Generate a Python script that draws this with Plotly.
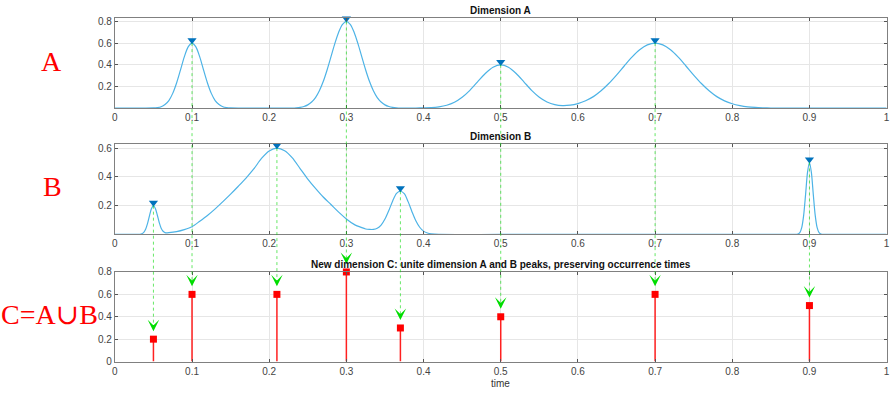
import plotly.graph_objects as go

# ---------------- data ----------------
tA = [0.00, 0.01, 0.02, 0.03, 0.04, 0.05, 0.055, 0.06, 0.065, 0.07, 0.075, 0.08, 0.085, 0.09, 0.095,
      0.10, 0.105, 0.11, 0.115, 0.12, 0.125, 0.13, 0.135, 0.14, 0.145, 0.15, 0.16, 0.17, 0.18, 0.19,
      0.20, 0.21, 0.22, 0.23, 0.235, 0.24, 0.245, 0.25, 0.255, 0.26, 0.265, 0.27, 0.275, 0.28, 0.285,
      0.29, 0.295, 0.30, 0.305, 0.31, 0.315, 0.32, 0.325, 0.33, 0.335, 0.34, 0.345, 0.35, 0.355, 0.36,
      0.365, 0.37, 0.38, 0.39, 0.40, 0.41, 0.42, 0.43, 0.44, 0.45, 0.46, 0.47, 0.48, 0.49, 0.50,
      0.51, 0.52, 0.53, 0.54, 0.55, 0.56, 0.57, 0.58, 0.59, 0.60, 0.61, 0.62, 0.63, 0.64, 0.65,
      0.66, 0.67, 0.68, 0.69, 0.70, 0.71, 0.72, 0.73, 0.74, 0.75, 0.76, 0.77, 0.78, 0.79, 0.80,
      0.81, 0.82, 0.83, 0.84, 0.85, 0.86, 0.90, 0.95, 1.00]
yA = [0, 0, 0, 0, 0, 0.002, 0.005, 0.013, 0.033, 0.070, 0.136, 0.232, 0.351, 0.473, 0.565,
      0.600, 0.565, 0.473, 0.351, 0.232, 0.136, 0.070, 0.033, 0.013, 0.005, 0.002, 0, 0, 0, 0,
      0, 0, 0, 0.001, 0.003, 0.007, 0.015, 0.030, 0.056, 0.097, 0.160, 0.245, 0.352, 0.473, 0.595,
      0.701, 0.774, 0.800, 0.774, 0.701, 0.595, 0.473, 0.352, 0.245, 0.160, 0.097, 0.056, 0.030, 0.015, 0.007,
      0.003, 0.001, 0, 0.001, 0.002, 0.004, 0.011, 0.026, 0.054, 0.100, 0.164, 0.243, 0.320, 0.378, 0.400,
      0.378, 0.320, 0.243, 0.164, 0.101, 0.057, 0.032, 0.023, 0.027, 0.042, 0.068, 0.106, 0.160, 0.227, 0.305,
      0.389, 0.471, 0.539, 0.584, 0.600, 0.584, 0.539, 0.471, 0.389, 0.305, 0.227, 0.160, 0.106, 0.067, 0.040,
      0.023, 0.012, 0.006, 0.003, 0.001, 0, 0, 0, 0]

tB = [0.00, 0.01, 0.02, 0.03, 0.0325, 0.035, 0.0375, 0.04, 0.0425, 0.045, 0.0475, 0.05, 0.0525, 0.055,
      0.0575, 0.06, 0.0625, 0.065, 0.0675, 0.07, 0.08, 0.09, 0.10, 0.11, 0.12, 0.13, 0.14, 0.15, 0.16,
      0.17, 0.18, 0.19, 0.20, 0.21, 0.22, 0.23, 0.24, 0.25, 0.26, 0.27, 0.28, 0.29, 0.30, 0.31, 0.32,
      0.325, 0.33, 0.335, 0.34, 0.345, 0.35, 0.355, 0.36, 0.365, 0.37, 0.375, 0.38, 0.385, 0.39, 0.395,
      0.40, 0.405, 0.41, 0.42, 0.50, 0.60, 0.70, 0.80, 0.87, 0.88, 0.885, 0.8875, 0.89, 0.8925, 0.895,
      0.8975, 0.90, 0.9025, 0.905, 0.9075, 0.91, 0.9125, 0.915, 0.92, 0.93, 1.00]
yB = [0, 0, 0, 0, 0.001, 0.005, 0.015, 0.038, 0.079, 0.132, 0.180, 0.200, 0.181, 0.135,
      0.083, 0.043, 0.022, 0.013, 0.011, 0.012, 0.020, 0.034, 0.054, 0.092, 0.132, 0.178, 0.228, 0.280, 0.335,
      0.392, 0.455, 0.528, 0.580, 0.600, 0.582, 0.532, 0.458, 0.385, 0.320, 0.260, 0.208, 0.155, 0.108, 0.070, 0.047,
      0.038, 0.035, 0.035, 0.043, 0.065, 0.107, 0.166, 0.233, 0.285, 0.300, 0.283, 0.228, 0.158, 0.095, 0.050,
      0.023, 0.010, 0.004, 0, 0, 0, 0, 0, 0, 0, 0.002, 0.012, 0.047, 0.132, 0.277,
      0.431, 0.500, 0.431, 0.277, 0.132, 0.047, 0.012, 0.002, 0, 0, 0]

peaksA_t = [0.10, 0.30, 0.50, 0.70]
peaksA_v = [0.60, 0.80, 0.40, 0.60]
peaksB_t = [0.05, 0.21, 0.37, 0.90]
peaksB_v = [0.20, 0.60, 0.30, 0.50]

xtick_vals = [0, 0.1, 0.2, 0.3, 0.4, 0.5, 0.6, 0.7, 0.8, 0.9, 1]
xtick_text = ["0", "0.1", "0.2", "0.3", "0.4", "0.5", "0.6", "0.7", "0.8", "0.9", "1"]
ytickA = [0.2, 0.4, 0.6, 0.8]
ytickB = [0.2, 0.4, 0.6]
ytickC = [0, 0.2, 0.4, 0.6, 0.8]

titleA = "Dimension A"
titleB = "Dimension B"
titleC = "New dimension C: unite dimension A and B peaks, preserving occurrence times"
xlabel = "time"
side_labels = ["A", "B", "C=A\u222aB"]

# C = A ∪ B (peaks kept at their occurrence times)
pairs = sorted(zip(peaksA_t + peaksB_t, peaksA_v + peaksB_v))
cT = [p[0] for p in pairs]
cV = [p[1] for p in pairs]

# ---------------- layout geometry ----------------
W, H = 892, 395
xdom = [112.6 / W, 889.6 / W]
domA = [1 - 105.3 / H, 1 - 12.3 / H]
domB = [1 - 235.6 / H, 1 - 142.7 / H]
domC = [1 - 366.7 / H, 1 - 274.3 / H]
rngA = [0, 0.833]
rngB = [0, 0.626]
rngC = [0, 0.8]


def to_paper(v, dom, rng):
    return dom[0] + (v - rng[0]) / (rng[1] - rng[0]) * (dom[1] - dom[0])


def px_to_data(px, dom, rng):
    return px * (rng[1] - rng[0]) / ((dom[1] - dom[0]) * H)


CURVE = "#4DB3E6"
MARK = "#0072BD"
GREEN_LINE = "rgba(0,215,0,0.6)"
GREEN = "#00DD00"
RED = "#FF2020"
FONT = "Liberation Sans, Arial, sans-serif"

fig = go.Figure()

fig.add_trace(go.Scatter(x=tA, y=yA, mode="lines", line=dict(color=CURVE, width=1.2, shape="spline", smoothing=0.8),
                         xaxis="x", yaxis="y", showlegend=False, cliponaxis=False))
offA = px_to_data(3, domA, rngA)
fig.add_trace(go.Scatter(x=peaksA_t, y=[v + offA for v in peaksA_v], mode="markers",
                         marker=dict(symbol="triangle-down", size=8, color=MARK),
                         xaxis="x", yaxis="y", showlegend=False, cliponaxis=False))

fig.add_trace(go.Scatter(x=tB, y=yB, mode="lines", line=dict(color=CURVE, width=1.2, shape="spline", smoothing=0.8),
                         xaxis="x2", yaxis="y2", showlegend=False, cliponaxis=False))
offB = px_to_data(3, domB, rngB)
fig.add_trace(go.Scatter(x=peaksB_t, y=[v + offB for v in peaksB_v], mode="markers",
                         marker=dict(symbol="triangle-down", size=8, color=MARK),
                         xaxis="x2", yaxis="y2", showlegend=False, cliponaxis=False))

# stems in C
sx, sy = [], []
for t, v in zip(cT, cV):
    sx += [t, t, None]
    sy += [0, v, None]
fig.add_trace(go.Scatter(x=sx, y=sy, mode="lines", line=dict(color=RED, width=1.5),
                         xaxis="x3", yaxis="y3", showlegend=False, cliponaxis=False))
fig.add_trace(go.Scatter(x=cT, y=cV, mode="markers", marker=dict(symbol="square", size=7, color="#FF0000"),
                         xaxis="x3", yaxis="y3", showlegend=False, cliponaxis=False))

# green dotted guide lines + arrows
tip_gap = 8
shapes = []
annotations = []
guides = [(t, v, domA, rngA) for t, v in zip(peaksA_t, peaksA_v)] + \
         [(t, v, domB, rngB) for t, v in zip(peaksB_t, peaksB_v)]
for t, v, dom, rng in guides:
    cv = cV[cT.index(t)]
    y_top = to_paper(v, dom, rng)
    y_bot = to_paper(cv, domC, rngC) + (tip_gap + 4) / H
    shapes.append(dict(type="line", xref="x", yref="paper", x0=t, x1=t, y0=y_top, y1=y_bot,
                       line=dict(color=GREEN_LINE, width=1, dash="dot"), layer="above"))
    annotations.append(dict(x=t, y=cv, xref="x3", yref="y3", text="", showarrow=True,
                            ax=0, ay=-(tip_gap + 6), standoff=tip_gap, arrowhead=3, arrowsize=1.2,
                            arrowwidth=1.6, arrowcolor=GREEN))

# titles
for txt, ypx in [(titleA, 5), (titleB, 135), (titleC, 267)]:
    annotations.append(dict(x=(xdom[0] + xdom[1]) / 2, y=1 - ypx / H, xref="paper", yref="paper",
                            text="<b>" + txt + "</b>", showarrow=False, xanchor="center", yanchor="middle",
                            font=dict(family=FONT, size=10, color="#111111")))
annotations.append(dict(x=(xdom[0] + xdom[1]) / 2, y=1 - 389 / H, xref="paper", yref="paper", text=xlabel,
                        showarrow=False, xanchor="center", yanchor="middle",
                        font=dict(family=FONT, size=10, color="#333333")))
for txt, cx, cy in zip(side_labels, [49, 50, 47], [57, 186, 318]):
    annotations.append(dict(x=cx / W, y=1 - cy / H, xref="paper", yref="paper", text=txt, showarrow=False,
                            xanchor="center", yanchor="middle",
                            font=dict(family="Liberation Serif, DejaVu Serif, serif", size=28, color="#FF0000")))

axis_common = dict(showline=True, linecolor="#808080", linewidth=1, mirror="ticks", ticks="inside",
                   ticklen=3, tickcolor="#555555", showgrid=True, gridcolor="#E6E6E6", gridwidth=1,
                   zeroline=False, ticklabeloverflow="allow",
                   tickfont=dict(family=FONT, size=10, color="#444444"))

layout = dict(width=W, height=H, margin=dict(l=0, r=0, t=0, b=0), plot_bgcolor="white", paper_bgcolor="white",
              shapes=shapes, annotations=annotations, showlegend=False, hovermode=False)
for i, (dom, rng, yt) in enumerate([(domA, rngA, ytickA), (domB, rngB, ytickB), (domC, rngC, ytickC)]):
    sfx = "" if i == 0 else str(i + 1)
    layout["xaxis" + sfx] = dict(axis_common, domain=xdom, range=[0, 1], tickvals=xtick_vals, ticktext=xtick_text,
                                 anchor="y" + sfx)
    layout["yaxis" + sfx] = dict(axis_common, domain=dom, range=rng, tickvals=yt,
                                 ticktext=[("%g" % v) for v in yt], anchor="x" + sfx)

fig.update_layout(**layout)
fig.write_html("out.html", config={"displayModeBar": False},
               post_script="document.body.style.margin='0';document.body.style.padding='0';"
                           "document.body.style.overflow='hidden';")
